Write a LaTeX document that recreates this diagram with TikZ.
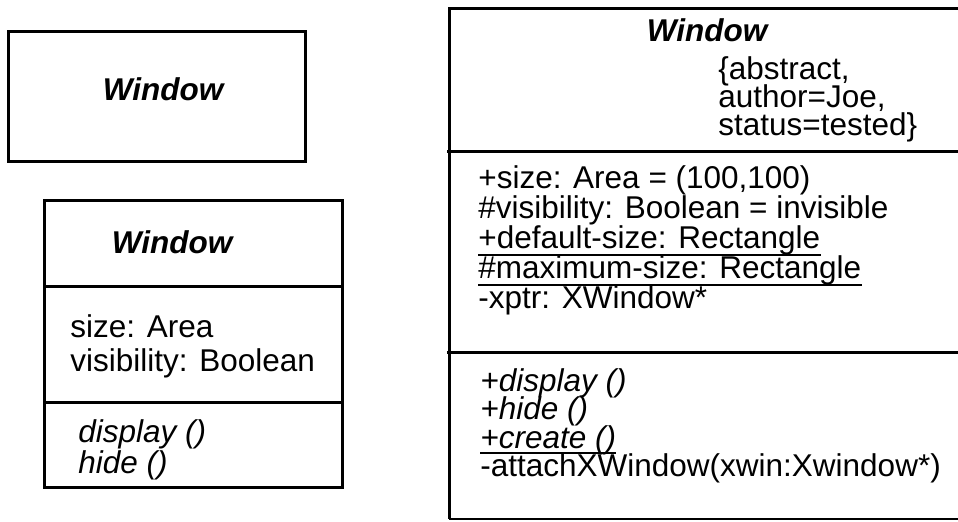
\documentclass[tikz,border=0pt]{standalone}
\usepackage{fontspec}
\setmainfont{Liberation Sans}

\begin{document}
\begin{tikzpicture}[x=0.5pt,y=-0.5pt]

       \tikzset{classframe/.style = {draw, line width=1.5pt}, }
       \tikzset{thinframe/.style = {draw, line width=0.6pt}, }
       \tikzset{cname/.style = {anchor=base, inner sep=0pt, font=\fontsize{15.75pt}{19pt}\selectfont\bfseries\itshape}, }
       \tikzset{member/.style = {anchor=base west, inner sep=0pt, font=\fontsize{15.75pt}{19pt}\selectfont}, }
       \tikzset{oper/.style = {anchor=base west, inner sep=0pt, font=\fontsize{15.75pt}{19pt}\selectfont\itshape}, }
       \tikzset{uline/.style = {draw, line width=0.7pt}, }
       \useasboundingbox (0,0) rectangle (958,521);

       % short form
       \draw[classframe] (8,31) rectangle (305,161);
       \node[cname] (W1) at (163,100) {Window};

       % with attributes and operations
       \draw[classframe] (44,200) rectangle (342,487);
       \draw[classframe] (44,286) -- (342,286);
       \draw[classframe] (44,402) -- (342,402);
       \node[cname] (W2) at (172,253) {Window};
       \node[member] (A1) at (70,337) {size: Area};
       \node[member] (A2) at (70,371) {visibility: Boolean};
       \node[oper] (O1) at (78,442) {display ()};
       \node[oper] (O2) at (78,473) {hide ()};

       % full form
       \draw[classframe] (958,8) -- (449,8) -- (449,519);
       \draw[thinframe] (449,519) -- (958,519);
       \draw[classframe] (447,151) -- (958,151);
       \draw[classframe] (447,352) -- (958,352);
       \node[cname] (W3) at (707,41) {Window};
       \node[member] (T1) at (718,79) {\{abstract,};
       \node[member] (T2) at (718,107) {author=Joe,};
       \node[member] (T3) at (718,135) {status=tested\}};

       \node[member] (S1) at (478,188) {+size: Area = (100,100)};
       \node[member] (S2) at (478,218) {\#visibility: Boolean = invisible};
       \node[member] (S3) at (478,248) {+default-size: Rectangle};
       \node[member] (S4) at (478,278) {\#maximum-size: Rectangle};
       \node[member] (S5) at (478,308) {-xptr: XWindow*};

       \node[oper] (P1) at (480,391) {+display ()};
       \node[oper] (P2) at (480,419) {+hide ()};
       \node[oper] (P3) at (480,448) {+create ()};
       \node[member] (P4) at (480,476) {-attachXWindow(xwin:Xwindow*)};

       \path[uline]
       ([yshift=-3.5pt]S3.base west) edge ([yshift=-3.5pt]S3.base east)
       ([yshift=-3.5pt]S4.base west) edge ([yshift=-3.5pt]S4.base east)
       ([yshift=-2.5pt]P3.base west) edge ([yshift=-2.5pt]P3.base east);

\end{tikzpicture}
\end{document}
